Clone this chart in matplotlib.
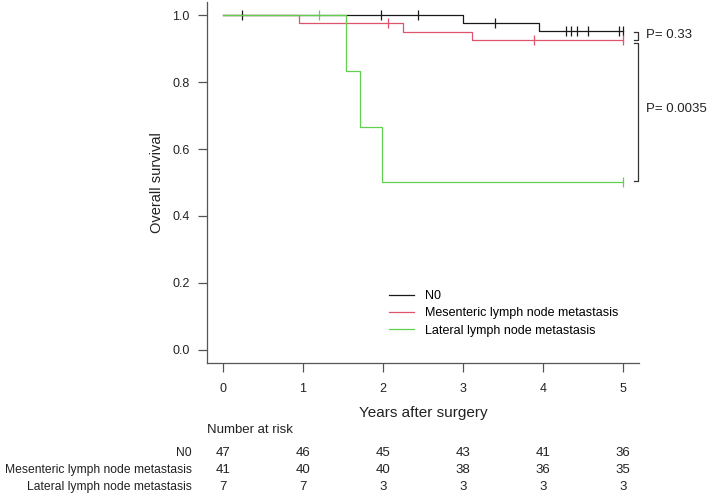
import matplotlib.pyplot as plt
import numpy as np

plt.rcParams['font.family'] = ['Liberation Sans', 'DejaVu Sans']

# Kaplan-Meier curves (step times / survival)
groups = ['N0', 'Mesenteric lymph node metastasis', 'Lateral lymph node metastasis']
colors = ['#1a1a1a', '#DF536B', '#61D04F']

n0_t = [0, 3.0, 3.95, 5.0]
n0_s = [1.0, 0.977, 0.953, 0.953]
mes_t = [0, 0.95, 2.25, 3.11, 5.0]
mes_s = [1.0, 0.976, 0.951, 0.926, 0.926]
lat_t = [0, 1.54, 1.71, 1.99, 5.0]
lat_s = [1.0, 0.833, 0.667, 0.5, 0.5]

# censored observations
n0_cens = [0.24, 1.98, 2.44, 3.4, 4.29, 4.35, 4.42, 4.56, 4.95, 5.0]
mes_cens = [2.06, 3.89, 5.0]
lat_cens = [1.2, 5.0]

# number at risk
risk_years = [0, 1, 2, 3, 4, 5]
n0_risk = [47, 46, 45, 43, 41, 36]
mes_risk = [41, 40, 40, 38, 36, 35]
lat_risk = [7, 7, 3, 3, 3, 3]

W, H = 709, 494
fig = plt.figure(figsize=(W / 100, H / 100), dpi=100)
ax = fig.add_axes([207 / W, 1 - 363 / H, 432 / W, 361 / H])

def surv_at(t, times, surv):
    i = np.searchsorted(times, t, side='right') - 1
    return surv[i]

curves = [(n0_t, n0_s, n0_cens), (mes_t, mes_s, mes_cens), (lat_t, lat_s, lat_cens)]
for k, ((t, s, c), col, lab) in enumerate(zip(curves, colors, groups)):
    ax.step(t, s, where='post', color=col, lw=0.9, label=lab, zorder=3 + k)
    cy = [surv_at(x, t, s) for x in c]
    ax.plot(c, cy, ls='none', marker='|', ms=7, mew=0.9, color=col, zorder=3 + k)

ax.set_xlim(-0.2, 5.2)
ax.set_ylim(-0.04, 1.04)
ax.set_xticks(risk_years)
ax.set_yticks([0, 0.2, 0.4, 0.6, 0.8, 1.0])
ax.set_yticklabels(['0.0', '0.2', '0.4', '0.6', '0.8', '1.0'])
for sp in ['top', 'right']:
    ax.spines[sp].set_visible(False)
for sp in ['left', 'bottom']:
    ax.spines[sp].set_color('#555555')
    ax.spines[sp].set_linewidth(0.9)
ax.tick_params(direction='out', length=6.5, width=0.9, color='#555555',
               labelsize=9, labelcolor='#222222', pad=8)
ax.tick_params(axis='y', pad=6)
ax.set_ylabel('Overall survival', fontsize=10.5, color='#222222', labelpad=6)
ax.set_xlabel('Years after surgery', fontsize=11, color='#222222', labelpad=8)

# p-value brackets
def bracket(x, y0, y1, txt, ty):
    ax.plot([x - 0.05, x, x, x - 0.05], [y0, y0, y1, y1], color='#333333', lw=0.9, clip_on=False)
    ax.text(x + 0.1, ty, txt, fontsize=9.5, color='#222222', va='center', ha='left', clip_on=False)

bracket(5.19, 0.951, 0.926, 'P= 0.33', 0.94)
bracket(5.19, 0.916, 0.505, 'P= 0.0035', 0.72)

ax.legend(loc='upper left', bbox_to_anchor=((389 - 207) / 432, 1 - (290 - 2) / 361),
          frameon=False, fontsize=9, handlelength=2.0, handletextpad=0.9,
          labelspacing=0.42, borderpad=0, borderaxespad=0)

# number at risk table
fig.text(207 / W, 1 - 430 / H, 'Number at risk', fontsize=9.5, color='#222222', va='center')
rows = [n0_risk, mes_risk, lat_risk]
row_y = [453, 470, 487]
trans = ax.get_xaxis_transform()
pos = ax.get_position()
for lab, vals, py in zip(groups, rows, row_y):
    fy = 1 - py / H
    fig.text(192 / W, fy, lab, fontsize=8.7, color='#222222', ha='right', va='center')
    for yr, v in zip(risk_years, vals):
        ax.text(yr, (fy - pos.y0) / pos.height, str(v),
                transform=trans, fontsize=9.5, color='#222222', ha='center', va='center',
                clip_on=False)

fig.savefig('out.png', dpi=100)
